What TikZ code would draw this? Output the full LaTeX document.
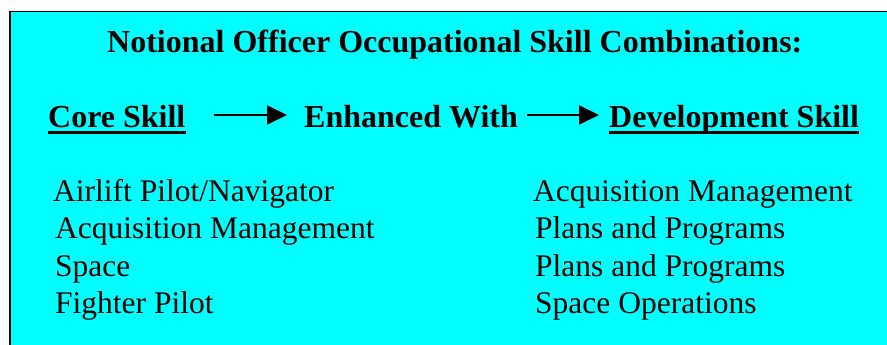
\documentclass[tikz,border=0pt]{standalone}
\usepackage{fontspec}
\setmainfont{Liberation Serif}
\usetikzlibrary{arrows.meta}
\definecolor{boxcyan}{RGB}{0,255,255}
\begin{document}
\begin{tikzpicture}[x=1pt,y=1pt,
  txt/.style={anchor=base west,inner sep=0pt,font=\fontsize{31.5}{36}\selectfont},
  hd/.style={anchor=base west,inner sep=0pt,font=\fontsize{32}{36}\selectfont\bfseries},
  ul/.style={line width=3.3pt},
  arr/.style={line width=2pt,-{Triangle[length=20pt,width=19pt]}}]
\useasboundingbox (0,0) rectangle (887,-345);
\begin{scope}
\clip (0,0) rectangle (887,-345);
\draw[line width=1.8pt,fill=boxcyan] (10,-11.5) rectangle (900,-360);
\end{scope}
\node[hd] (title) at (107,-52.7) {Notional Officer Occupational Skill Combinations:};
\node[hd] (core) at (48,-128) {Core Skill};
\node[hd] (enh) at (304,-128) {Enhanced With};
\node[hd] (dev) at (609,-128) {Development Skill};
\draw[ul] ([yshift=-4.7pt]core.base west) -- ([yshift=-4.7pt]core.base east);
\draw[ul] ([yshift=-4.7pt]dev.base west) -- ([yshift=-4.7pt]dev.base east);
\draw[arr] ([shift={(28pt,13pt)}]core.base east) -- ([shift={(-17pt,13pt)}]enh.base west);
\draw[arr] ([shift={(9pt,13pt)}]enh.base east) -- ([shift={(-10pt,13pt)}]dev.base west);
\node[txt] (l1) at (53,-201.7) {Airlift Pilot/Navigator};
\node[txt] (l2) at (55,-238.3) {Acquisition Management};
\node[txt] (l3) at (55,-276.7) {Space};
\node[txt] (l4) at (55,-313.3) {Fighter Pilot};
\node[txt] (r1) at (533,-201.7) {Acquisition Management};
\node[txt] (r2) at (535,-238.3) {Plans and Programs};
\node[txt] (r3) at (535,-276.7) {Plans and Programs};
\node[txt] (r4) at (535,-313.3) {Space Operations};
\end{tikzpicture}
\end{document}
